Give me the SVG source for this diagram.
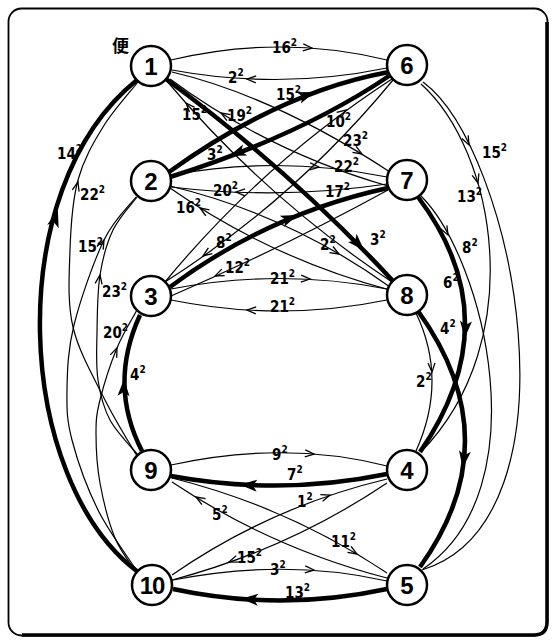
<svg xmlns="http://www.w3.org/2000/svg" width="555" height="643" viewBox="0 0 555 643">
<style>
.e{fill:none;stroke:#000;stroke-width:1.2}
.t{fill:none;stroke:#000;stroke-width:4.5}
.n circle{fill:#fff;stroke:#000;stroke-width:2.5}
.n text{font-family:"Liberation Sans",Arial,sans-serif;font-weight:bold;font-size:24px;text-anchor:middle}
.l{font-family:"Liberation Sans Narrow","DejaVu Sans Condensed","Liberation Sans",sans-serif;font-size:15px;font-weight:bold}
.l tspan{font-size:10px}
</style>
<defs>
<path id="ah" d="M-9,-3.5 L0,0 L-9,3.5" fill="none" stroke="#000" stroke-width="1.3"/>
<path id="AH" d="M3,0 L-14,-6 L-10,0 L-14,6 Z" fill="#000"/>
</defs>
<rect x="8.5" y="8.5" width="539" height="627" rx="13" fill="#fff" stroke="#000" stroke-width="1.8"/>
<path d="M547,22 V622 Q547,635 534,635 H22" fill="none" stroke="#000" stroke-width="3.5"/>
<g id="connectors">
<path class="e" d="M171,60 Q280,34 387,60"/>
<path class="e" d="M387,68 Q280,90 172,70"/>
<path class="e" d="M171,175 Q280,155 387,177"/>
<path class="e" d="M387,184 Q280,200 171,187"/>
<path class="e" d="M171,289 Q280,268 387,289"/>
<path class="e" d="M387,300 Q280,322 171,300"/>
<path class="t" d="M169,172 Q280,92 389,72"/>
<path class="t" d="M389,76 Q300,136 170,177"/>
<path class="t" d="M166,79 Q290,170 393,281"/>
<path class="e" d="M392,282 Q264,197 166,80"/>
<path class="e" d="M172,72 Q274,96 390,172"/>
<path class="e" d="M388,186 Q269,152 170,79"/>
<path class="e" d="M170,186 Q290,215 390,287"/>
<path class="e" d="M390,290 Q270,258 170,188"/>
<path class="e" d="M165,282 Q263,163 392,79"/>
<path class="e" d="M393,80 Q295,199 165,282"/>
<path class="t" d="M170,287 Q268,214 388,188"/>
<path class="e" d="M388,190 Q282,248 171,296"/>
<path class="e" d="M171,465 Q285,440 387,466"/>
<path class="t" d="M387,474 Q280,496 171,476"/>
<path class="e" d="M173,580 Q285,558 387,581"/>
<path class="t" d="M387,589 Q280,612 173,589"/>
<path class="e" d="M172,478 Q288,507 387,573"/>
<path class="e" d="M387,578 Q271,548 172,482"/>
<path class="e" d="M172,575 Q270,507 387,479"/>
<path class="e" d="M387,483 Q289,549 172,580"/>
<path class="t" d="M418,197 Q511,320 420,452"/>
<path class="t" d="M418,311 Q511,440 420,567"/>
<path class="e" d="M416,313 Q448,380 416,451"/>
<path class="e" d="M423,82 C515,150 585,520 422,570"/>
<path class="e" d="M421,84 C495,150 530,340 421,452"/>
<path class="e" d="M421,196 C485,260 540,490 423,569"/>
<path class="t" d="M138,572 C15,480 0,190 137,80"/>
<path class="e" d="M137,456 C131.7,446.7 115.7,421.5 105,400 C94.3,378.5 78.8,352 73,327 C67.2,302 69.2,274.5 70,250 C70.8,225.5 72.5,200.5 78,180 C83.5,159.5 93,143.3 103,127 C113,110.7 132.2,89.5 138,82"/>
<path class="e" d="M137,571 C130.5,560.8 108.8,531.8 98,510 C87.2,488.2 77.2,460 72,440 C66.8,420 66.7,409.2 67,390 C67.3,370.8 67.8,350 74,325 C80.2,300 93.7,261.3 104,240 C114.3,218.7 130.7,204.2 136,197"/>
<path class="e" d="M138,455 C133.3,449.2 116.7,432.5 110,420 C103.3,407.5 100.2,394.5 98,380 C95.8,365.5 96.7,350.5 97,333 C97.3,315.5 97.3,292.2 100,275 C102.7,257.8 106.8,243 113,230 C119.2,217 133,202.5 137,197"/>
<path class="e" d="M137,573 C133.3,567.2 121.2,553 115,538 C108.8,523 103.2,500.5 100,483 C96.8,465.5 96,446.8 96,433 C96,419.2 96.5,414.2 100,400 C103.5,385.8 110.8,363 117,348 C123.2,333 133.7,316.3 137,310"/>
<path class="t" d="M142,451 Q108,385 140,315"/>
<use href="#ah" transform="translate(312,48) rotate(4)"/>
<use href="#ah" transform="translate(247,79) rotate(183)"/>
<use href="#ah" transform="translate(319,167) rotate(4)"/>
<use href="#ah" transform="translate(236,192) rotate(182)"/>
<use href="#ah" transform="translate(310,279) rotate(3)"/>
<use href="#ah" transform="translate(247,310) rotate(183)"/>
<use href="#AH" transform="translate(312,93) rotate(-20)"/>
<use href="#AH" transform="translate(232,155) rotate(159)"/>
<use href="#AH" transform="translate(362,248) rotate(46)"/>
<use href="#ah" transform="translate(186,103) rotate(228)"/>
<use href="#ah" transform="translate(362,154) rotate(31)"/>
<use href="#ah" transform="translate(221,113) rotate(211)"/>
<use href="#ah" transform="translate(339,254) rotate(30)"/>
<use href="#ah" transform="translate(200,208) rotate(212)"/>
<use href="#ah" transform="translate(346,110) rotate(-36)"/>
<use href="#ah" transform="translate(203,256) rotate(145)"/>
<use href="#AH" transform="translate(295,216) rotate(-22)"/>
<use href="#ah" transform="translate(215,276) rotate(156)"/>
<use href="#ah" transform="translate(314,454) rotate(4)"/>
<use href="#AH" transform="translate(243,485) rotate(183)"/>
<use href="#ah" transform="translate(314,570) rotate(4)"/>
<use href="#AH" transform="translate(244,599) rotate(183)"/>
<use href="#ah" transform="translate(357,554) rotate(31)"/>
<use href="#ah" transform="translate(196,497) rotate(211)"/>
<use href="#ah" transform="translate(330,495) rotate(-19)"/>
<use href="#ah" transform="translate(229,562) rotate(160)"/>
<use href="#AH" transform="translate(465,335) rotate(94)"/>
<use href="#AH" transform="translate(463,465) rotate(98)"/>
<use href="#ah" transform="translate(432,372) rotate(87)"/>
<use href="#ah" transform="translate(469,145) rotate(64)"/>
<use href="#ah" transform="translate(478,183) rotate(74)"/>
<use href="#ah" transform="translate(448,235) rotate(62)"/>
<use href="#AH" transform="translate(57,213) rotate(-73)"/>
<use href="#ah" transform="translate(78,182) rotate(-75)"/>
<use href="#ah" transform="translate(104,240) rotate(-64)"/>
<use href="#ah" transform="translate(100,275) rotate(-81)"/>
<use href="#ah" transform="translate(117,348) rotate(-67)"/>
<use href="#AH" transform="translate(124,382) rotate(-88)"/>
</g>
<g id="labels">
<text class="l" x="272" y="53">16<tspan dy="-7">2</tspan></text>
<text class="l" x="228" y="83">2<tspan dy="-7">2</tspan></text>
<text class="l" x="276" y="100">15<tspan dy="-7">2</tspan></text>
<text class="l" x="182" y="120">15<tspan dy="-7">2</tspan></text>
<text class="l" x="227" y="121">19<tspan dy="-7">2</tspan></text>
<text class="l" x="207" y="160">3<tspan dy="-7">2</tspan></text>
<text class="l" x="326" y="127">10<tspan dy="-7">2</tspan></text>
<text class="l" x="343" y="146">23<tspan dy="-7">2</tspan></text>
<text class="l" x="334" y="172">22<tspan dy="-7">2</tspan></text>
<text class="l" x="213" y="196">20<tspan dy="-7">2</tspan></text>
<text class="l" x="325" y="197">17<tspan dy="-7">2</tspan></text>
<text class="l" x="176" y="213">16<tspan dy="-7">2</tspan></text>
<text class="l" x="216" y="248">8<tspan dy="-7">2</tspan></text>
<text class="l" x="320" y="250">2<tspan dy="-7">2</tspan></text>
<text class="l" x="370" y="245">3<tspan dy="-7">2</tspan></text>
<text class="l" x="225" y="273">12<tspan dy="-7">2</tspan></text>
<text class="l" x="270" y="284">21<tspan dy="-7">2</tspan></text>
<text class="l" x="270" y="312">21<tspan dy="-7">2</tspan></text>
<text class="l" x="443" y="288">6<tspan dy="-7">2</tspan></text>
<text class="l" x="462" y="253">8<tspan dy="-7">2</tspan></text>
<text class="l" x="457" y="202">13<tspan dy="-7">2</tspan></text>
<text class="l" x="482" y="158">15<tspan dy="-7">2</tspan></text>
<text class="l" x="440" y="334">4<tspan dy="-7">2</tspan></text>
<text class="l" x="416" y="387">2<tspan dy="-7">2</tspan></text>
<text class="l" x="57" y="159">14<tspan dy="-7">2</tspan></text>
<text class="l" x="80" y="200">22<tspan dy="-7">2</tspan></text>
<text class="l" x="78" y="252">15<tspan dy="-7">2</tspan></text>
<text class="l" x="102" y="297">23<tspan dy="-7">2</tspan></text>
<text class="l" x="103" y="338">20<tspan dy="-7">2</tspan></text>
<text class="l" x="130" y="380">4<tspan dy="-7">2</tspan></text>
<text class="l" x="272" y="460">9<tspan dy="-7">2</tspan></text>
<text class="l" x="287" y="480">7<tspan dy="-7">2</tspan></text>
<text class="l" x="212" y="520">5<tspan dy="-7">2</tspan></text>
<text class="l" x="297" y="507">1<tspan dy="-7">2</tspan></text>
<text class="l" x="331" y="547">11<tspan dy="-7">2</tspan></text>
<text class="l" x="237" y="563">15<tspan dy="-7">2</tspan></text>
<text class="l" x="270" y="575">3<tspan dy="-7">2</tspan></text>
<text class="l" x="285" y="598">13<tspan dy="-7">2</tspan></text>
<text x="112" y="52" font-family="'Noto Sans CJK JP',sans-serif" font-weight="bold" font-size="17">便</text>
</g>
<g id="n1" class="n"><circle cx="151" cy="66" r="20"/><text x="151" y="75">1</text></g>
<g id="n2" class="n"><circle cx="151" cy="181" r="20"/><text x="151" y="190">2</text></g>
<g id="n3" class="n"><circle cx="151" cy="296" r="20"/><text x="151" y="305">3</text></g>
<g id="n9" class="n"><circle cx="151" cy="470" r="20"/><text x="151" y="479">9</text></g>
<g id="n10" class="n"><circle cx="152" cy="585" r="20"/><text x="152" y="594" style="letter-spacing:-1px">10</text></g>
<g id="n6" class="n"><circle cx="407" cy="65" r="20"/><text x="407" y="74">6</text></g>
<g id="n7" class="n"><circle cx="407" cy="180" r="20"/><text x="407" y="189">7</text></g>
<g id="n8" class="n"><circle cx="407" cy="295" r="20"/><text x="407" y="304">8</text></g>
<g id="n4" class="n"><circle cx="407" cy="470" r="20"/><text x="407" y="479">4</text></g>
<g id="n5" class="n"><circle cx="407" cy="585" r="20"/><text x="407" y="594">5</text></g>
</svg>
